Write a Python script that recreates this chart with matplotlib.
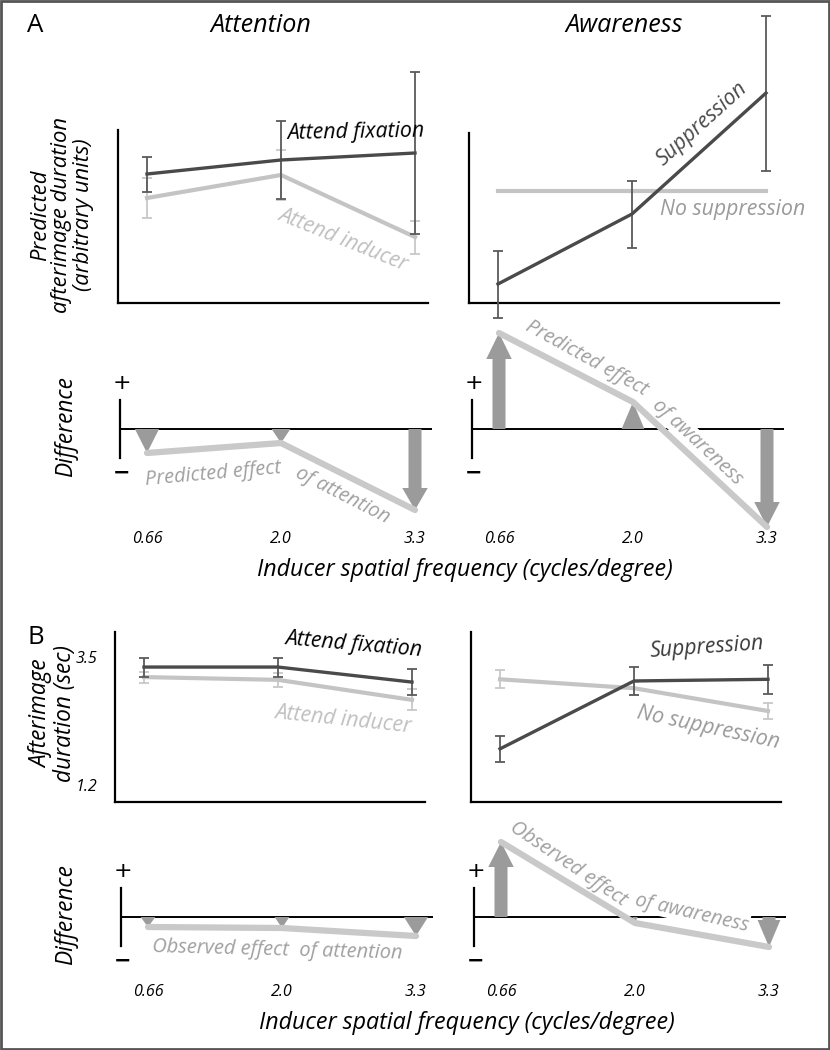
import matplotlib
matplotlib.use("Agg")
import matplotlib.pyplot as plt
from matplotlib.patches import FancyArrow, Rectangle

plt.rcParams['font.family'] = ['Open Sans', 'DejaVu Sans']

# ---------------- data ----------------
freq_labels = ['0.66', '2.0', '3.3']
pos = [0, 1, 2]

# A: predictions (arbitrary units)
a_fix = [12.9, 14.3, 15.0]
a_fix_err = [1.75, 3.85, 8.1]
a_ind = [10.5, 12.8, 6.6]
a_ind_err = [2.0, 2.5, 1.65]
a_sup = [1.9, 8.9, 21.0]
a_sup_err = [3.35, 3.35, 7.75]
a_nosup = [11.2, 11.2, 11.2]
a_diff_att = [-2.4, -1.4, -8.1]
a_diff_awr = [9.6, 2.7, -9.8]

# B: observed (sec)
b_yticks = [1.2, 3.5]
b_fix = [3.32, 3.32, 3.05]
b_fix_err = [0.17, 0.17, 0.23]
b_ind = [3.14, 3.09, 2.73]
b_ind_err = [0.10, 0.13, 0.19]
b_sup = [1.85, 3.07, 3.10]
b_sup_err = [0.24, 0.26, 0.26]
b_nosup = [3.10, 2.94, 2.53]
b_nosup_err = [0.16, 0.12, 0.14]
b_diff_att = [-1.0, -1.1, -1.9]
b_diff_awr = [7.5, -0.6, -3.0]

# ---------------- style ----------------
W, H = 830, 1050
DARK = '#4a4a4a'
DARK_E = '#5a5a5a'
LIGHT = '#c4c4c4'
LIGHT_E = '#c8c8c8'
EFFECT = '#c9c9c9'
ARROW = '#9b9b9b'
ETXT = '#a0a0a0'
PXU = 134.0  # pixels per category step
S = 0.93     # font scale

fig = plt.figure(figsize=(W / 100, H / 100), dpi=100)
fig.patch.set_facecolor('white')


def add_ax(x0, top, bottom, xl):
    left = x0 + xl[0] * PXU
    right = x0 + xl[1] * PXU
    ax = fig.add_axes([left / W, 1 - bottom / H, (right - left) / W, (bottom - top) / H])
    ax.set_xlim(*xl)
    ax.patch.set_alpha(0)
    return ax


def ftext(px, py, s, size, color='black', rot=0, style='italic', ax=None, **kw):
    tgt = ax if ax is not None else fig
    return tgt.text(px / W, 1 - py / H, s, fontsize=size * S, color=color, rotation=rot,
                    style=style, ha='center', va='center', transform=fig.transFigure,
                    rotation_mode='anchor', **kw)


def style_top(ax, yl):
    ax.set_ylim(*yl)
    for s in ['top', 'right']:
        ax.spines[s].set_visible(False)
    for s in ['left', 'bottom']:
        ax.spines[s].set_linewidth(1.6)
    ax.set_xticks([])
    ax.set_yticks([])


def series(ax, y, err, color, ecolor, lw, z):
    eb = ax.errorbar(pos, y, yerr=err, color=color, lw=lw, ecolor=ecolor,
                     elinewidth=1.3, capsize=3.5, capthick=1.3, zorder=z)
    for a in eb.get_children():
        a.set_clip_on(False)


def diff_panel(ax, vals, head_w, shaft_w, head_l, label_y):
    ax.set_ylim(-10, 10)
    for s in ['top', 'right', 'bottom']:
        ax.spines[s].set_visible(False)
    ax.spines['left'].set_linewidth(1.6)
    ax.spines['left'].set_bounds(-2.9, 2.9)
    ax.set_xticks([])
    ax.set_yticks([])
    ax.axhline(0, color='black', lw=1.4, zorder=1)
    ax.plot(pos, vals, color=EFFECT, lw=4.5, solid_capstyle='round',
            solid_joinstyle='round', zorder=3, clip_on=False)
    for x, v, hw, sw, hl in zip(pos, vals, head_w, shaft_w, head_l):
        ax.add_patch(FancyArrow(x, 0, 0, v, width=sw, head_width=hw,
                                head_length=min(hl, abs(v)), length_includes_head=True,
                                color=ARROW, lw=0, zorder=2, clip_on=False))
    xl = ax.get_xlim()[0]
    ax.text(xl + 0.01, 4.6, '+', ha='center', va='center', fontsize=16,
            family='DejaVu Sans', clip_on=False)
    ax.text(xl + 0.01, -4.4, '\u2212', ha='center', va='center', fontsize=15,
            family='DejaVu Sans', fontweight='bold', clip_on=False)
    for x, lab in zip(pos, freq_labels):
        ax.text(x, label_y, lab, ha='center', va='center', fontsize=12.5 * S,
                style='italic', clip_on=False)


XL_TOP = (-0.22, 2.1)
XL_DIFF = (-0.2, 2.13)

# ---------------- panel A ----------------
ax1 = add_ax(147, 130, 303, XL_TOP)
style_top(ax1, (0, 17.3))
series(ax1, a_ind, a_ind_err, LIGHT, LIGHT_E, 3.0, 2)
series(ax1, a_fix, a_fix_err, DARK, DARK_E, 2.4, 3)

ax2 = add_ax(498, 133, 303, XL_TOP)
style_top(ax2, (0, 17.0))
ax2.plot(pos, a_nosup, color=LIGHT, lw=3.0, zorder=2)
series(ax2, a_sup, a_sup_err, DARK, DARK_E, 2.4, 3)

ax3 = add_ax(147, 329, 529, XL_DIFF)
diff_panel(ax3, a_diff_att, [0.18, 0.14, 0.19], [0.001, 0.001, 0.097],
           [2.4, 1.4, 2.2], -11.0)

ax4 = add_ax(499, 329, 529, XL_DIFF)
diff_panel(ax4, a_diff_awr, [0.19, 0.17, 0.19], [0.097, 0.001, 0.097],
           [2.6, 2.7, 2.5], -11.0)

# ---------------- panel B ----------------
ax5 = add_ax(144, 632, 802, XL_TOP)
style_top(ax5, (0.895, 3.95))
ax5.set_yticks(b_yticks)
ax5.set_yticklabels([f'{v:.1f}' for v in b_yticks], style='italic', fontsize=12.5 * S)
ax5.tick_params(axis='y', length=0, pad=12)
series(ax5, b_ind, b_ind_err, LIGHT, LIGHT_E, 3.0, 2)
series(ax5, b_fix, b_fix_err, DARK, DARK_E, 2.4, 3)

ax6 = add_ax(500, 632, 802, XL_TOP)
style_top(ax6, (0.895, 3.95))
series(ax6, b_nosup, b_nosup_err, LIGHT, LIGHT_E, 3.0, 2)
series(ax6, b_sup, b_sup_err, DARK, DARK_E, 2.4, 3)

ax7 = add_ax(148, 817, 1017, XL_DIFF)
diff_panel(ax7, b_diff_att, [0.11, 0.11, 0.18], [0.001, 0.001, 0.001],
           [1.0, 1.1, 1.9], -7.5)

ax8 = add_ax(501, 817, 1017, XL_DIFF)
diff_panel(ax8, b_diff_awr, [0.19, 0.04, 0.17], [0.097, 0.001, 0.097],
           [2.5, 0.6, 2.7], -7.5)

# ---------------- texts ----------------
ftext(35, 26, 'A', 20, style='normal')
ftext(36, 637, 'B', 20, style='normal')
ftext(261, 25, 'Attention', 19.5)
ftext(624, 25, 'Awareness', 19.5)

ftext(62, 215, 'Predicted\nafterimage duration\n(arbitrary units)', 17, rot=90,
      linespacing=1.0, multialignment='center')
ftext(66, 427, 'Difference', 17.5, rot=90)
ftext(41, 714, 'Afterimage', 17.5, rot=90)
ftext(65, 714, 'duration (sec)', 17.5, rot=90)
ftext(66, 915, 'Difference', 17.5, rot=90)

ftext(465, 570, 'Inducer spatial frequency (cycles/degree)', 18)
ftext(467, 1023, 'Inducer spatial frequency (cycles/degree)', 18)

# A top labels
ftext(356, 132, 'Attend fixation', 16.5, rot=1)
ftext(343, 240, 'Attend inducer', 16.5, color='#c0c0c0', rot=-22)
ftext(702, 124, 'Suppression', 16.5, color=DARK, rot=42)
ftext(733, 210, 'No suppression', 16.5, color='#9a9a9a')

# A difference labels
ftext(213, 474, 'Predicted effect', 15.5, color=ETXT, rot=5)
ftext(342, 495, 'of attention', 15.5, color=ETXT, rot=-27)
ftext(587, 358, 'Predicted effect', 15.5, color=ETXT, rot=-29)
ftext(697, 442, 'of awareness', 15.5, color=ETXT, rot=-43, ax=ax4, zorder=1.5,
      bbox=dict(fc='white', ec='none', pad=0.3))

# B top labels
ftext(354, 645, 'Attend fixation', 16.5, rot=-5)
ftext(343, 720, 'Attend inducer', 16.5, color='#c0c0c0', rot=-6)
ftext(707, 648, 'Suppression', 16.5, color='#3a3a3a', rot=4)
ftext(708, 728, 'No suppression', 16.5, color='#9a9a9a', rot=-12)

# B difference labels
ftext(277, 950, 'Observed effect  of attention', 15.5, color=ETXT, rot=-1.5)
ftext(568, 864, 'Observed effect', 15.5, color=ETXT, rot=-34)
ftext(692, 913, 'of awareness', 15.5, color=ETXT, rot=-13, ax=ax8, zorder=1.5,
      bbox=dict(fc='white', ec='none', pad=0.3))

# outer frame
fig.patches.append(Rectangle((0.0015, 0.0012), 0.997, 0.9976, transform=fig.transFigure,
                             fill=False, ec='#555555', lw=2))

fig.savefig('out.png', dpi=100)
